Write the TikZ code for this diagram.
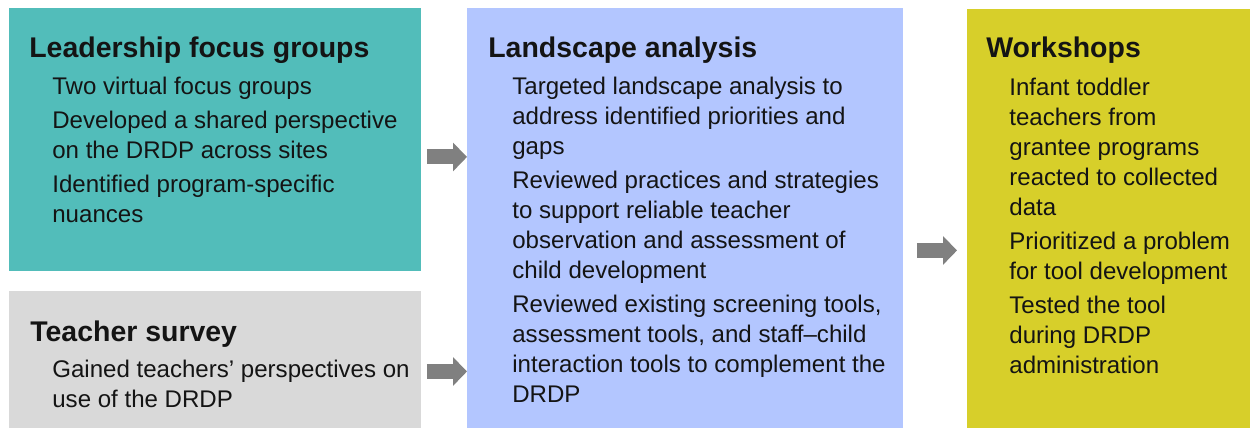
\documentclass[tikz,border=0pt]{standalone}
\usepackage{fontspec}
\setmainfont{Liberation Sans}
\usetikzlibrary{arrows.meta,positioning}
\definecolor{leadfill}{HTML}{52BDBA}
\definecolor{surveyfill}{HTML}{D9D9D9}
\definecolor{landfill}{HTML}{B3C6FF}
\definecolor{workfill}{HTML}{D7CF2A}
\definecolor{flowgrey}{HTML}{808080}
\definecolor{ink}{HTML}{141414}
\newcommand{\itemgap}{\\[2.4pt]}

\begin{document}
\begin{tikzpicture}[
  x=0.02cm, y=-0.02cm,
  panel/.style={inner sep=0pt, outer sep=0pt, anchor=north west},
  head/.style={anchor=base west, inner sep=0pt,
               font=\fontsize{16.2}{19}\selectfont\bfseries, text=ink},
  items/.style={anchor=north west, inner sep=0pt, align=left,
                font=\fontsize{13.7}{17.07}\selectfont, text=ink},
  flow/.style={line width=0.3cm, draw=flowgrey,
               -{Triangle[length=0.28cm, width=0.56cm]}},
]
  \useasboundingbox (0,0) rectangle (1250,428);

  % four coloured panels
  \node[panel, fill=leadfill, minimum width=8.24cm, minimum height=5.26cm] (lead) at (9,8) {};
  \node[panel, fill=surveyfill, minimum width=8.24cm, minimum height=2.8cm] (survey) at (9,291) {};
  \node[panel, fill=landfill, minimum width=8.72cm, minimum height=8.5cm] (land) at (467,8) {};
  \node[panel, fill=workfill, minimum width=5.8cm, minimum height=8.5cm] (work) at (967,9) {};

  % headings
  \node[head] (leadhead) at (29,58) {Leadership focus groups};
  \node[head] (surveyhead) at (30,342) {Teacher survey};
  \node[head] (landhead) at (488,58) {Landscape analysis};
  \node[head] (workhead) at (986,58) {Workshops};

  % bullet text
  \node[items] (leaditems) at (52,76.5) {Two virtual focus groups\itemgap
    Developed a shared perspective\\ on the DRDP across sites\itemgap
    Identified program-specific\\ nuances};
  \node[items] (surveyitems) at (52,359.5) {Gained teachers’ perspectives on\\ use of the DRDP};
  \node[items] (landitems) at (512,76.5) {Targeted landscape analysis to\\
    address identified priorities and\\ gaps\itemgap
    Reviewed practices and strategies\\ to support reliable teacher\\
    observation and assessment of\\ child development\itemgap
    Reviewed existing screening tools,\\ assessment tools, and staff–child\\
    interaction tools to complement the\\ DRDP};
  \node[items] (workitems) at (1009,77.5) {Infant toddler\\ teachers from\\
    grantee programs\\ reacted to collected\\ data\itemgap
    Prioritized a problem\\ for tool development\itemgap
    Tested the tool\\ during DRDP\\ administration};

  % block arrows between stages
  \draw[flow, shorten <=0.12cm] ([yshift=-0.35cm]lead.east) -- ([yshift=-0.35cm]lead.east -| land.west);
  \draw[flow, shorten <=0.12cm] ([yshift=-0.21cm]survey.east) -- ([yshift=-0.21cm]survey.east -| land.west);
  \draw[flow, shorten <=0.28cm, shorten >=0.2cm] ([yshift=-0.6cm]land.east) -- ([yshift=-0.6cm]land.east -| work.west);
\end{tikzpicture}
\end{document}
